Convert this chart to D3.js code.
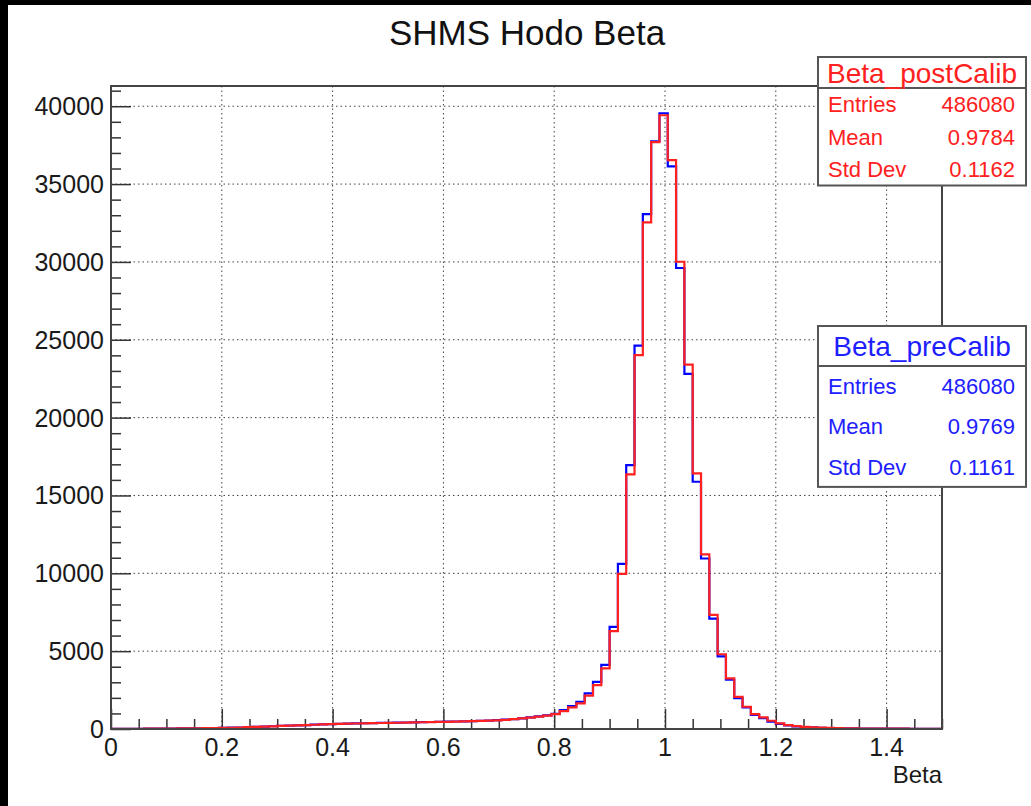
<!DOCTYPE html>
<html>
<head>
<meta charset="utf-8">
<script src="https://cdn.jsdelivr.net/npm/d3@7"></script>
<style>
  body { margin: 0; background: #fff; }
  svg { display: block; font-family: 'Liberation Sans', Arial, sans-serif; }
</style>
</head>
<body>
<div id="chart"></div>
<script>
// histogram definition: 100 bins from 0 to 1.5
const xMin = 0, xMax = 1.5, nBins = 100;

// bin contents (bin 0 .. 99)
const preCounts = [
  2, 6, 9, 14, 18, 24, 29, 33, 38, 44,
  48, 55, 60, 68, 82, 97, 118, 136, 158, 176,
  198, 214, 236, 255, 277, 296, 314, 330, 344, 356,
  368, 377, 388, 397, 405, 416, 428, 437, 449, 458,
  468, 481, 494, 508, 526, 543, 566, 596, 637, 688,
  748, 806, 878, 968, 1218, 1474, 1750, 2290, 3030, 4120,
  6560, 10600, 16950, 24630, 33070, 37750, 39550, 36140, 29610, 22810,
  15880, 10950, 7090, 4660, 3170, 1980, 1390, 900, 690, 470,
  330, 230, 170, 130, 100, 80, 65, 50, 40, 35,
  30, 28, 25, 22, 20, 18, 16, 15, 14, 12
];
const postCounts = [
  2, 5, 9, 13, 18, 23, 28, 33, 37, 43,
  47, 54, 59, 66, 80, 95, 116, 134, 155, 173,
  195, 211, 233, 252, 273, 292, 310, 326, 340, 352,
  364, 373, 384, 393, 401, 411, 423, 432, 444, 453,
  463, 476, 489, 502, 520, 537, 559, 588, 628, 678,
  737, 794, 864, 950, 1154, 1389, 1645, 2140, 2820, 3890,
  6290, 9970, 16360, 24010, 32540, 37700, 39420, 36540, 30010, 23400,
  16420, 11220, 7330, 4800, 3250, 2060, 1430, 960, 750, 530,
  360, 250, 185, 140, 110, 85, 70, 55, 42, 37,
  32, 29, 26, 23, 21, 19, 17, 15, 14, 13
];

const xTicks = [0, 0.2, 0.4, 0.6, 0.8, 1, 1.2, 1.4];
const yTicks = [0, 5000, 10000, 15000, 20000, 25000, 30000, 35000, 40000];

const statsPost = [['Entries', '486080'], ['Mean', '0.9784'], ['Std Dev', '0.1162']];
const statsPre = [['Entries', '486080'], ['Mean', '0.9769'], ['Std Dev', '0.1161']];

const W = 1031, H = 806;
const frame = { left: 111, top: 86, right: 942, bottom: 729 };

const svg = d3.select('#chart').append('svg')
  .attr('width', W)
  .attr('height', H);

svg.append('rect').attr('width', W).attr('height', H).attr('fill', '#fff');
// black canvas edges
svg.append('rect').attr('x', 0).attr('y', 0).attr('width', W).attr('height', 5).attr('fill', '#000');
svg.append('rect').attr('x', 0).attr('y', 0).attr('width', 8).attr('height', H).attr('fill', '#000');

const x = d3.scaleLinear().domain([xMin, xMax]).range([frame.left, frame.right]);
const y = d3.scaleLinear().domain([0, 41300]).range([frame.bottom, frame.top]);

// title
svg.append('text')
  .attr('x', 527).attr('y', 45)
  .attr('text-anchor', 'middle')
  .attr('font-size', 35)
  .attr('fill', '#111')
  .text('SHMS Hodo Beta');

// grid
const grid = svg.append('g').attr('stroke', '#444').attr('stroke-width', 1).attr('stroke-dasharray', '1.5,3');
grid.selectAll('.gx').data(xTicks.filter(d => d > 0)).enter().append('line')
  .attr('x1', d => x(d)).attr('x2', d => x(d))
  .attr('y1', frame.top).attr('y2', frame.bottom);
grid.selectAll('.gy').data(yTicks.filter(d => d > 0)).enter().append('line')
  .attr('x1', frame.left).attr('x2', frame.right)
  .attr('y1', d => y(d)).attr('y2', d => y(d));

// axes (ticks pointing into the frame, ROOT style)
const xAxis = svg.append('g')
  .attr('transform', 'translate(0,' + frame.bottom + ')')
  .call(d3.axisTop(x).tickValues(d3.range(0, 1.5001, 0.05)).tickSize(10).tickFormat(''));
xAxis.selectAll('.tick line').filter(d => Math.abs(d / 0.2 - Math.round(d / 0.2)) < 1e-6).attr('y2', -20);
xAxis.call(g => g.select('.domain').remove());

const yAxis = svg.append('g')
  .attr('transform', 'translate(' + frame.left + ',0)')
  .call(d3.axisRight(y).tickValues(d3.range(0, 41001, 1000)).tickSize(10).tickFormat(''));
yAxis.selectAll('.tick line').filter(d => d % 5000 === 0).attr('x2', 20);
yAxis.call(g => g.select('.domain').remove());

svg.selectAll('.tick line').attr('stroke', '#333').attr('stroke-width', 1.5);

// tick labels
svg.append('g').selectAll('text').data(xTicks).enter().append('text')
  .attr('x', d => x(d)).attr('y', 756)
  .attr('text-anchor', 'middle')
  .attr('font-size', 25)
  .attr('fill', '#1a1a1a')
  .text(d => d3.format('~g')(d));
svg.append('g').selectAll('text').data(yTicks).enter().append('text')
  .attr('x', frame.left - 7).attr('y', d => y(d))
  .attr('dy', '0.36em')
  .attr('text-anchor', 'end')
  .attr('font-size', 25)
  .attr('fill', '#1a1a1a')
  .text(d => d);

// axis title
svg.append('text')
  .attr('x', frame.right).attr('y', 783)
  .attr('text-anchor', 'end')
  .attr('font-size', 24)
  .attr('fill', '#1a1a1a')
  .text('Beta');

// histograms as steps
const binW = (xMax - xMin) / nBins;
function stepPoints(counts) {
  const pts = counts.map((c, i) => [xMin + i * binW, c]);
  pts.push([xMax, counts[counts.length - 1]]);
  return pts;
}
const line = d3.line()
  .x(d => x(d[0]))
  .y(d => y(d[1]))
  .curve(d3.curveStepAfter);

svg.append('path')
  .datum(stepPoints(preCounts))
  .attr('fill', 'none')
  .attr('stroke', '#0000ff')
  .attr('stroke-width', 2.2)
  .attr('d', line);
svg.append('path')
  .datum(stepPoints(postCounts))
  .attr('fill', 'none')
  .attr('stroke', '#ff2020')
  .attr('stroke-width', 2.2)
  .attr('d', line);

// frame
svg.append('rect')
  .attr('x', frame.left).attr('y', frame.top)
  .attr('width', frame.right - frame.left).attr('height', frame.bottom - frame.top)
  .attr('fill', 'none')
  .attr('stroke', '#444')
  .attr('stroke-width', 2);

// stat boxes
function statBox(name, stats, color, bx, by, bw, titleH, rowH) {
  const g = svg.append('g');
  g.append('rect')
    .attr('x', bx).attr('y', by)
    .attr('width', bw).attr('height', titleH + rowH * stats.length)
    .attr('fill', '#fff')
    .attr('stroke', '#555')
    .attr('stroke-width', 2);
  g.append('line')
    .attr('x1', bx).attr('x2', bx + bw)
    .attr('y1', by + titleH).attr('y2', by + titleH)
    .attr('stroke', '#555').attr('stroke-width', 2);
  g.append('text')
    .attr('x', bx + bw / 2).attr('y', by + titleH / 2)
    .attr('dy', '0.36em')
    .attr('text-anchor', 'middle')
    .attr('font-size', 28)
    .attr('fill', color)
    .text(name);
  stats.forEach((s, i) => {
    const cy = by + titleH + rowH * (i + 0.5);
    g.append('text')
      .attr('x', bx + 10).attr('y', cy).attr('dy', '0.36em')
      .attr('font-size', 22).attr('fill', color)
      .text(s[0]);
    g.append('text')
      .attr('x', bx + bw - 11).attr('y', cy).attr('dy', '0.36em')
      .attr('text-anchor', 'end')
      .attr('font-size', 22).attr('fill', color)
      .text(s[1]);
  });
}
statBox('Beta_postCalib', statsPost, '#ff2020', 818, 57, 208, 31, 32.5);
statBox('Beta_preCalib', statsPre, '#2020ff', 818, 326, 208, 40, 40.3);
</script>
</body>
</html>
